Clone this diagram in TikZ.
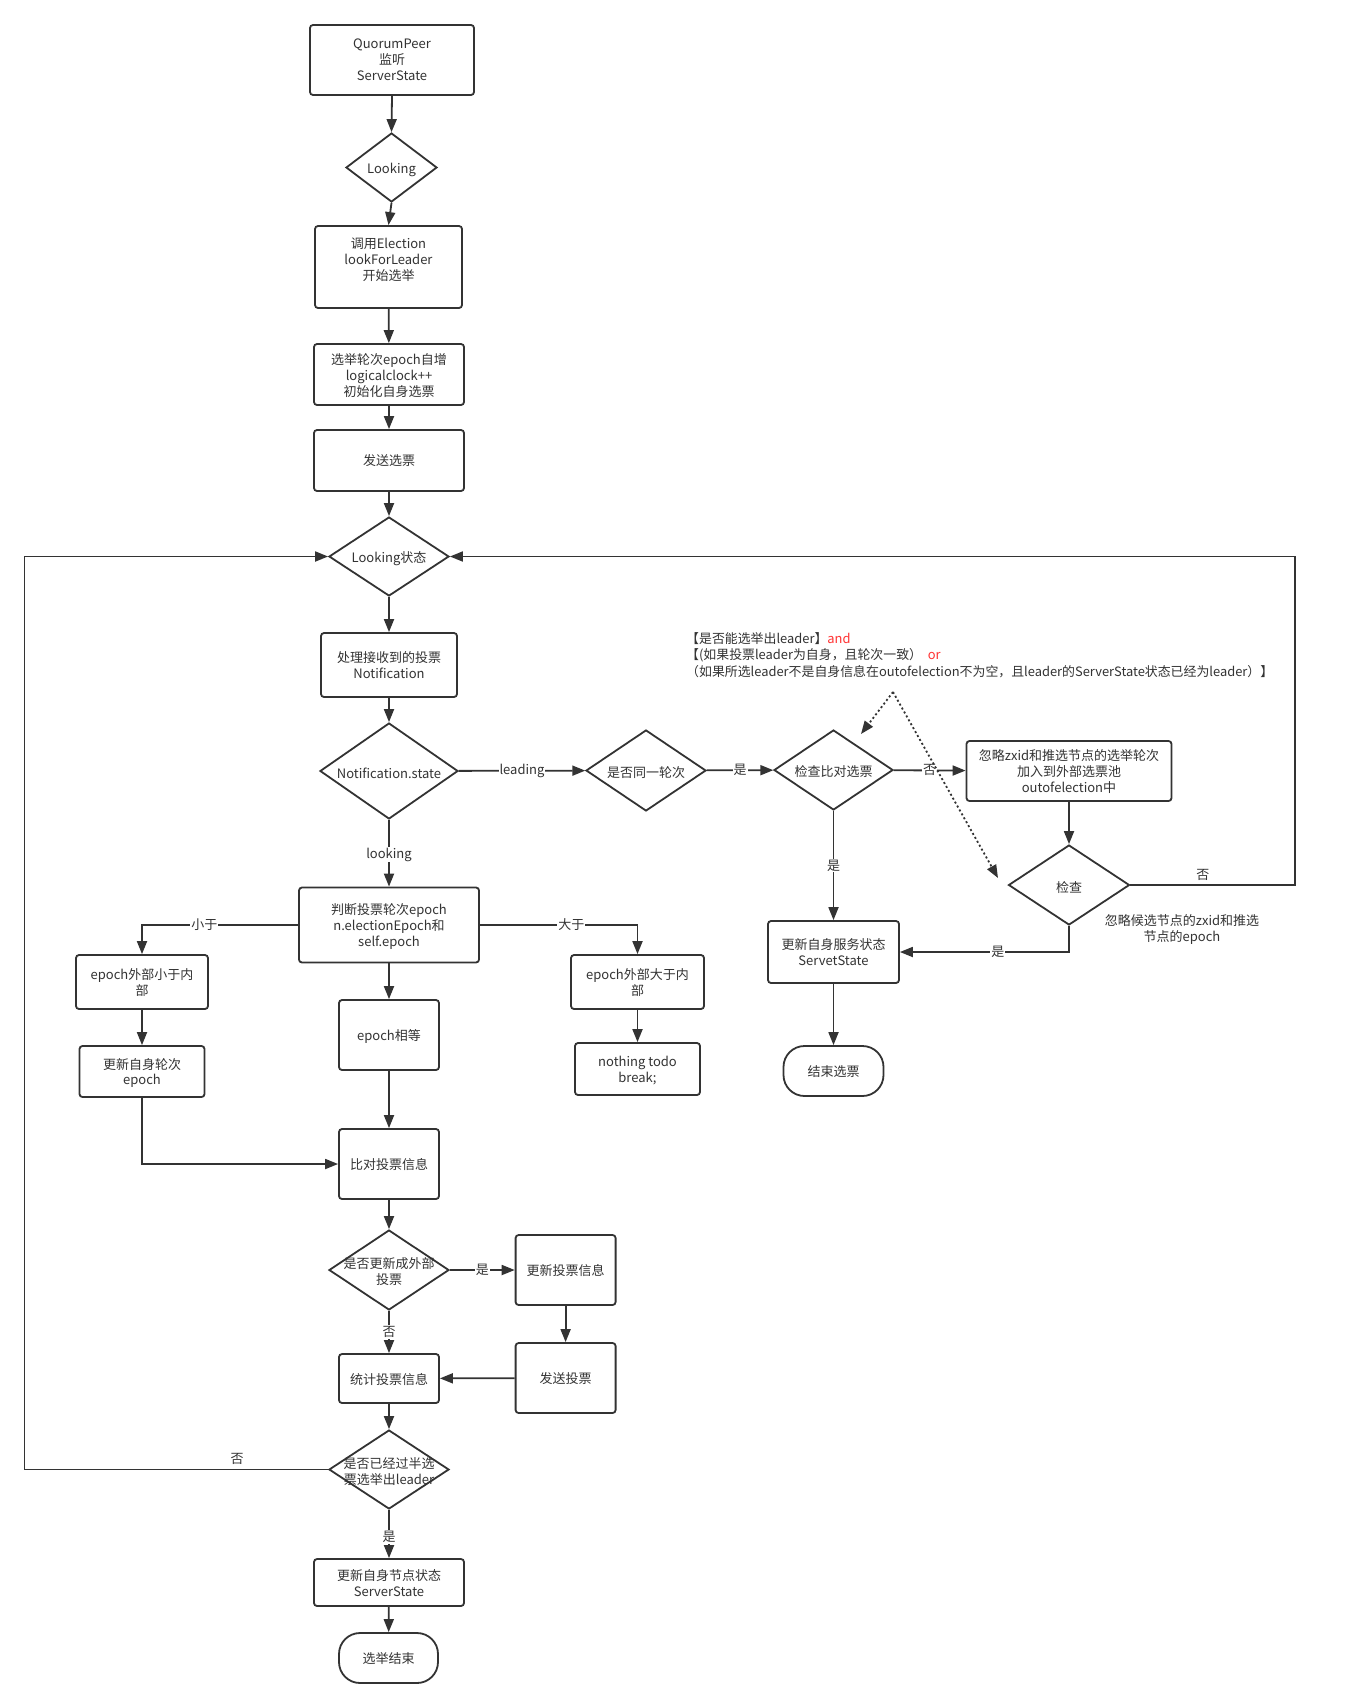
\documentclass[tikz,border=0pt]{standalone}
\usepackage{fontspec}
\setmainfont{Noto Sans CJK SC}
\usetikzlibrary{arrows.meta,shapes.geometric}
\definecolor{ln}{HTML}{333333}
\definecolor{rd}{HTML}{FF3333}
\begin{document}
\begin{tikzpicture}[x=1pt,y=-1pt,
  font=\fontsize{13}{16}\selectfont, text=ln,
  box/.style={draw=ln, line width=1.8pt, rounded corners=3pt, align=center, inner sep=0pt, text depth=-1.5pt},
  term/.style={draw=ln, line width=1.8pt, rounded corners=21pt, align=center, inner sep=0pt, text depth=-1.5pt},
  dia/.style={diamond, draw=ln, line width=1.8pt, inner sep=0pt},
  txt/.style={align=center, inner sep=0pt, yshift=-2pt},
  arr/.style={draw=ln, line width=1.8pt, -{Triangle[length=13pt,width=10pt]}},
  lbl/.style={fill=white, inner sep=1pt, text=ln, font=\fontsize{13}{16}\selectfont},
  flbl/.style={inner sep=1pt, text=ln, font=\fontsize{13}{16}\selectfont}]
\fill[white] (0,0) rectangle (1371,1708);
\useasboundingbox (0,0) rectangle (1371,1708);

% main column
\node[box, minimum width=164pt, minimum height=70pt] (q) at (392,60) {QuorumPeer\\监听\\ServerState};
\node[dia, minimum width=91pt, minimum height=69pt] (look) at (391.5,167.5) {};
\node[txt] (look-t) at (look) {Looking};
\node[box, minimum width=147pt, minimum height=82pt] (elect) at (388.5,267) {};
\node[txt] (elect-t) at (388.5,258) {调用Election\\lookForLeader\\开始选举};
\node[box, minimum width=150pt, minimum height=61pt] (inc) at (389,374.5) {选举轮次epoch自增\\logicalclock++\\初始化自身选票};
\node[box, minimum width=150pt, minimum height=61pt] (send) at (389,460.5) {发送选票};
\node[dia, minimum width=120pt, minimum height=79pt] (ls) at (389,556.5) {};
\node[txt] (ls-t) at (ls) {Looking状态};
\node[box, minimum width=136pt, minimum height=64pt] (proc) at (389,665) {处理接收到的投票\\Notification};
\node[dia, minimum width=138pt, minimum height=96pt] (ns) at (389,771) {};
\node[txt] (ns-t) at (ns) {Notification.state};

% leading branch
\node[dia, minimum width=120pt, minimum height=81pt] (same) at (646,770.5) {};
\node[txt] (same-t) at (same) {是否同一轮次};
\node[dia, minimum width=119pt, minimum height=80pt] (chk) at (833.5,770) {};
\node[txt] (chk-t) at (chk) {检查比对选票};
\node[box, minimum width=205pt, minimum height=60pt] (ign) at (1069,771) {忽略zxid和推选节点的选举轮次\\加入到外部选票池\\outofelection中};
\node[dia, minimum width=121pt, minimum height=80pt] (chk2) at (1069,885) {};
\node[txt] (chk2-t) at (chk2) {检查};
\node[txt] (note2) at (1182,927) {忽略候选节点的zxid和推选\\节点的epoch};
\node[box, minimum width=131pt, minimum height=62pt] (upd) at (833.5,952) {更新自身服务状态\\ServetState};
\node[term, minimum width=100pt, minimum height=50pt] (endv) at (833.5,1071) {结束选票};

\node[anchor=west, align=left, inner sep=0pt, font=\fontsize{12.9}{16.5}\selectfont] (ann) at (686,655) {【是否能选举出leader】\textcolor{rd}{and}\\【(如果投票leader为自身，且轮次一致）\ \ \textcolor{rd}{or}\\（如果所选leader不是自身信息在outofelection不为空，且leader的ServerState状态已经为leader）】};

% looking branch
\node[box, minimum width=180pt, minimum height=75pt] (judge) at (389,925) {判断投票轮次epoch\\n.electionEpoch和\\self.epoch};
\node[box, minimum width=132pt, minimum height=54pt] (lt) at (142,982) {epoch外部小于内\\部};
\node[box, minimum width=125pt, minimum height=51pt] (updep) at (142,1071.5) {更新自身轮次\\epoch};
\node[box, minimum width=100pt, minimum height=70pt] (eq) at (389,1035) {epoch相等};
\node[box, minimum width=133pt, minimum height=54pt] (gt) at (637.5,982) {epoch外部大于内\\部};
\node[box, minimum width=125pt, minimum height=52pt] (noth) at (637.5,1069) {nothing todo\\break;};
\node[box, minimum width=100pt, minimum height=70pt] (cmp) at (389,1164) {比对投票信息};
\node[dia, minimum width=120pt, minimum height=80pt] (isupd) at (389,1270) {};
\node[txt] (isupd-t) at (isupd) {是否更新成外部\\投票};
\node[box, minimum width=100pt, minimum height=70pt] (updv) at (565.6,1270) {更新投票信息};
\node[box, minimum width=100pt, minimum height=70pt] (sendv) at (565.6,1378) {发送投票};
\node[box, minimum width=100pt, minimum height=49pt] (cnt) at (389,1378.5) {统计投票信息};
\node[dia, minimum width=120pt, minimum height=79pt] (half) at (389,1469.5) {};
\node[txt] (half-t) at (half) {是否已经过半选\\票选举出leader};
\node[box, minimum width=150pt, minimum height=47pt] (updn) at (389,1582.5) {更新自身节点状态\\ServerState};
\node[term, minimum width=99pt, minimum height=50pt] (fin) at (388.5,1658) {选举结束};

\coordinate (apex) at (893,692);
\coordinate (da) at (861,734);
\coordinate (db) at (998,878);
\coordinate (rloop) at (1295,885);
\coordinate (lloop) at (24.5,1469.5);

% connectors
\draw[arr] (q.south) -- (look.north);
\draw[arr] (look.south) -- (elect.north);
\draw[arr] (elect) -- (inc);
\draw[arr] (inc) -- (send);
\draw[arr] (send) -- (ls);
\draw[arr] (ls) -- (proc);
\draw[arr] (proc) -- (ns);
\draw[arr] (ns) -- node[lbl] {leading} (same);
\draw[arr] (same) -- node[lbl] {是} (chk);
\draw[arr] (chk) -- node[lbl] {否} (ign);
\draw[arr] (chk) -- node[lbl] {是} (upd);
\draw[arr] (ign) -- (chk2);
\draw[arr] (chk2.south) |- node[lbl, pos=0.71] {是} (upd.east);
\draw[arr] (chk2.east) -- node[flbl, pos=0.44, above=3pt] {否} (rloop) |- (ls.east);
\draw[arr] (upd) -- (endv);
\draw[arr, dash pattern=on 2pt off 2.5pt] (apex) -- (da);
\draw[arr, dash pattern=on 2pt off 2.5pt] (apex) -- (db);

\draw[arr] (ns) -- node[lbl, pos=0.52] {looking} (judge);
\draw[arr] (judge.west) -| node[lbl, pos=0.3] {小于} (lt.north);
\draw[arr] (judge.east) -| node[lbl, pos=0.29] {大于} (gt.north);
\draw[arr] (judge) -- (eq);
\draw[arr] (lt) -- (updep);
\draw[arr] (gt) -- (noth);
\draw[arr] (eq) -- (cmp);
\draw[arr] (updep.south) |- (cmp.west);
\draw[arr] (cmp) -- (isupd);
\draw[arr] (isupd) -- node[lbl] {是} (updv);
\draw[arr] (isupd) -- node[lbl] {否} (cnt);
\draw[arr] (updv) -- (sendv);
\draw[arr] (sendv) -- (cnt);
\draw[arr] (cnt) -- (half);
\draw[arr] (half.west) -- node[flbl, pos=0.3, above=3pt] {否} (lloop) |- (ls.west);
\draw[arr] (half) -- node[lbl, pos=0.56] {是} (updn);
\draw[arr] (updn) -- (fin);
\end{tikzpicture}
\end{document}
